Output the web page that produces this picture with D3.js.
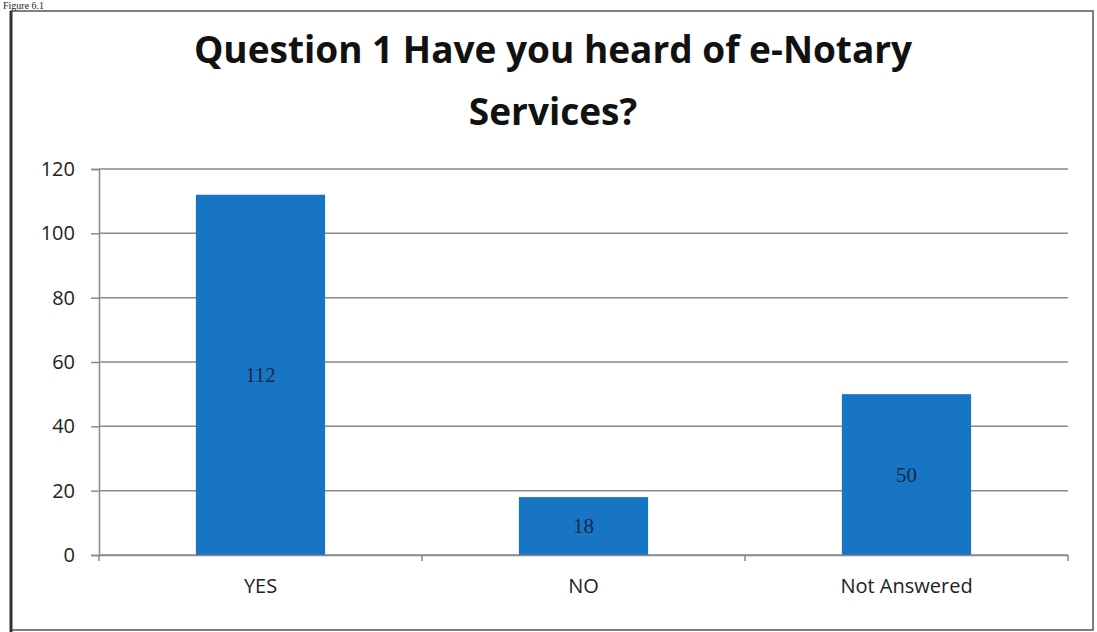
<!DOCTYPE html>
<html>
<head>
<meta charset="utf-8">
<script src="https://cdn.jsdelivr.net/npm/d3@7"></script>
<style>
  body { margin: 0; background: #fff; }
  svg { display: block; }
  .grid line { stroke: #8a8a8a; stroke-width: 1.5; }
  .axis text { font-family: "Open Sans", sans-serif; font-size: 20px; fill: #222; }
  .axis path, .axis line { stroke: #8a8a8a; stroke-width: 1.5; }
</style>
</head>
<body>
<div id="chart"></div>
<script>
var categories = ["YES", "NO", "Not Answered"];
var values = [112, 18, 50];
var yTicks = [0, 20, 40, 60, 80, 100, 120];
var titleLines = ["Question 1 Have you heard of e-Notary", "Services?"];

var W = 1097, H = 632,
    margin = { top: 169, right: 29, bottom: 77, left: 99 },
    w = W - margin.left - margin.right,
    h = H - margin.top - margin.bottom;

var main = d3.select("#chart").append("svg")
    .attr("width", W)
    .attr("height", H);

// figure caption above the frame
main.append("text")
    .attr("x", 3)
    .attr("y", 9)
    .style("font-family", "Liberation Serif, serif")
    .style("font-size", "10px")
    .style("fill", "#222")
    .text("Figure 6.1");

// outer frame
main.append("rect")
    .attr("x", 11)
    .attr("y", 11)
    .attr("width", 1082)
    .attr("height", 619)
    .style("fill", "none")
    .style("stroke", "#555")
    .style("stroke-width", 1.5);
main.append("line")
    .attr("x1", 11).attr("x2", 11)
    .attr("y1", 11).attr("y2", 632)
    .style("stroke", "#333")
    .style("stroke-width", 3);

main.selectAll(".title")
    .data(titleLines)
    .enter().append("text")
    .attr("class", "title")
    .attr("x", 553)
    .attr("y", function(d, i) { return 63 + i * 62; })
    .attr("text-anchor", "middle")
    .style("font-family", "Open Sans, sans-serif")
    .style("font-weight", "bold")
    .style("font-size", "37px")
    .style("fill", "#111")
    .text(function(d) { return d; });

var svg = main.append("g")
    .attr("transform", "translate(" + margin.left + "," + margin.top + ")");

var xScale = d3.scaleBand()
    .domain(categories)
    .range([0, w])
    .paddingInner(0.6)
    .paddingOuter(0.3);

var yScale = d3.scaleLinear()
    .domain([0, 120])
    .range([h, 0]);

svg.append("g")
    .attr("class", "grid")
    .selectAll("line")
    .data(yTicks)
    .enter().append("line")
    .attr("x1", 0)
    .attr("x2", w)
    .attr("y1", function(d) { return yScale(d); })
    .attr("y2", function(d) { return yScale(d); });

svg.append("g")
    .attr("class", "y axis")
    .call(d3.axisLeft(yScale).tickValues(yTicks).tickSize(8).tickPadding(16));

svg.selectAll(".bar")
    .data(values)
    .enter().append("rect")
    .attr("class", "bar")
    .attr("x", function(d, i) { return xScale(categories[i]); })
    .attr("width", xScale.bandwidth())
    .attr("y", function(d) { return yScale(d); })
    .attr("height", function(d) { return h - yScale(d); })
    .style("fill", "#1874c4");

svg.selectAll(".val")
    .data(values)
    .enter().append("text")
    .attr("class", "val")
    .attr("x", function(d, i) { return xScale(categories[i]) + xScale.bandwidth() / 2; })
    .attr("y", function(d) { return yScale(d / 2) + 7; })
    .attr("text-anchor", "middle")
    .style("font-family", "Liberation Serif, serif")
    .style("font-size", "21px")
    .style("fill", "#1b2a45")
    .text(function(d) { return d; });

var xAxis = svg.append("g")
    .attr("class", "x axis")
    .attr("transform", "translate(0," + h + ")")
    .call(d3.axisBottom(xScale).tickSize(0).tickPadding(24));

// category boundary ticks
var step = w / categories.length;
xAxis.selectAll(".sep")
    .data(d3.range(categories.length + 1))
    .enter().append("line")
    .attr("class", "sep")
    .attr("x1", function(d) { return d * step; })
    .attr("x2", function(d) { return d * step; })
    .attr("y1", 0)
    .attr("y2", 6);
</script>
</body>
</html>
